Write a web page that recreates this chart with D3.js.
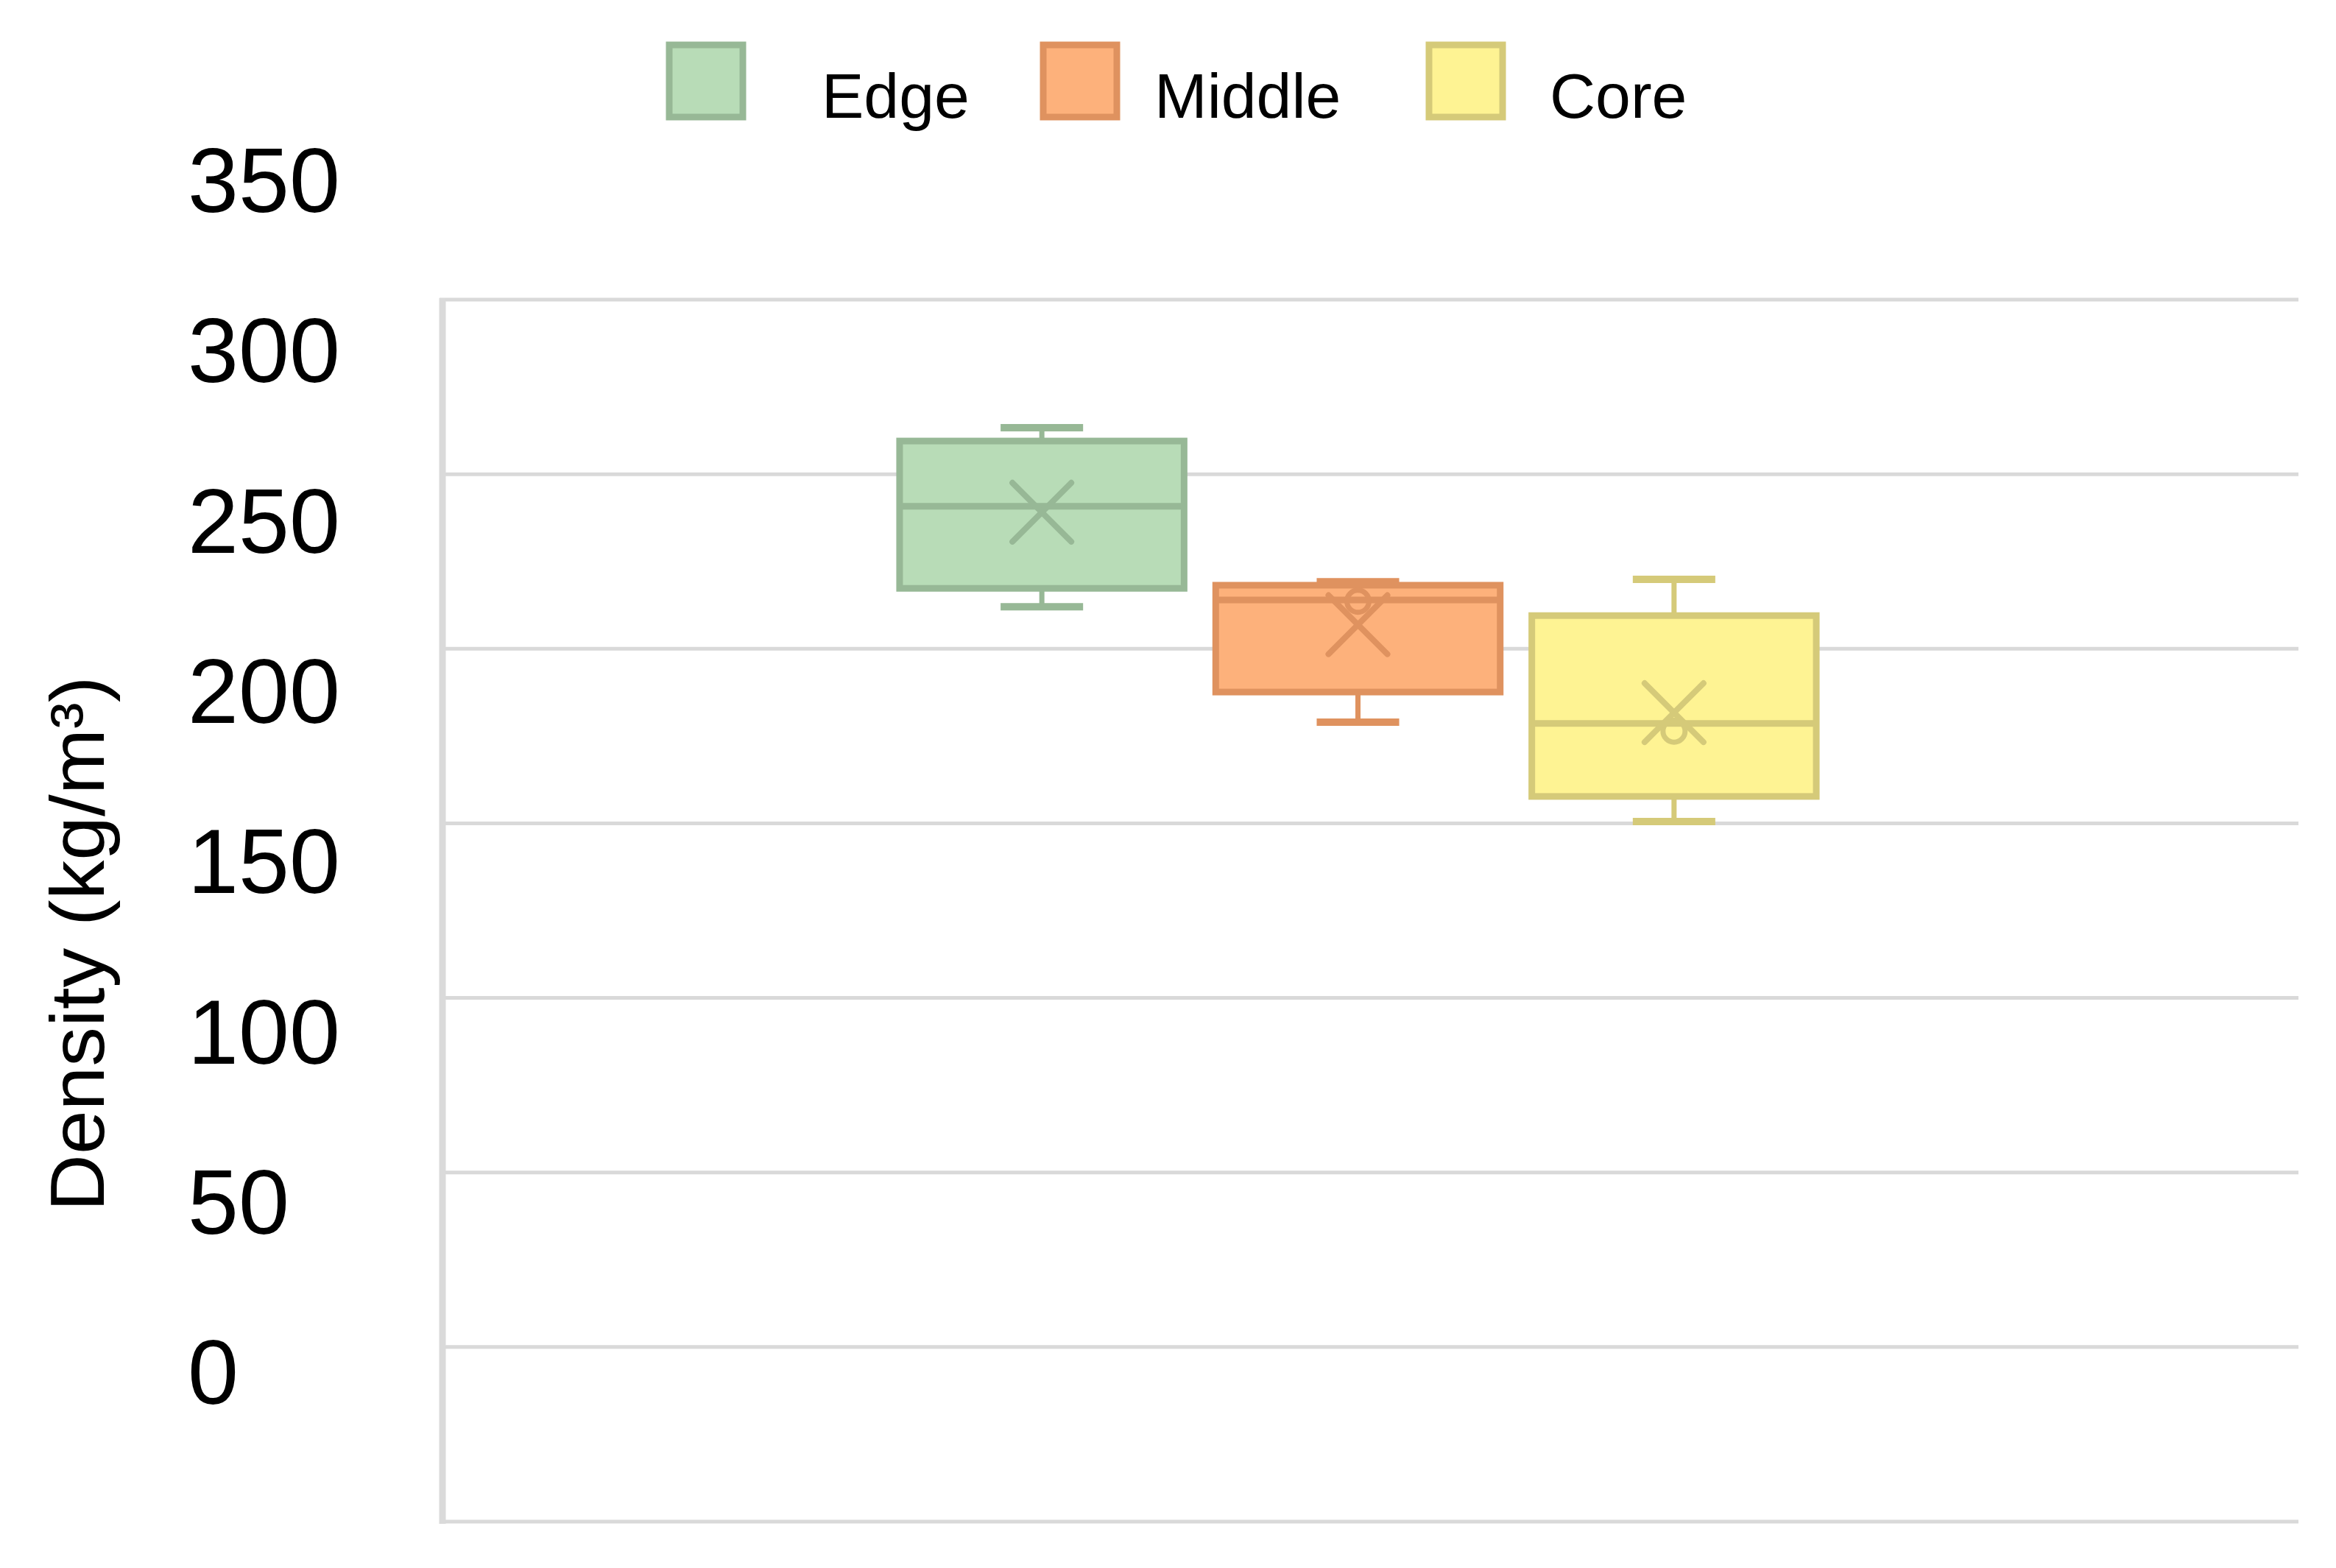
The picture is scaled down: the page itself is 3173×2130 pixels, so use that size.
<!DOCTYPE html>
<html>
<head>
<meta charset="utf-8">
<script src="https://cdn.jsdelivr.net/npm/d3@7"></script>
<style>
  body { margin: 0; background: #fff; }
  text { font-family: "Liberation Sans", Arial, sans-serif; fill: #000; }
</style>
</head>
<body>
<div id="chart"></div>
<script>
// data
const series = ["Edge", "Middle", "Core"];
const whiskerLow = [262, 229, 200.5];
const q1 = [267.3, 237.6, 207.7];
const median = [290.8, 264, 228.6];
const q3 = [309.5, 268.2, 259.5];
const whiskerHigh = [313.3, 269.2, 269.9];
const mean = [289.1, 256.9, 231.7];
const innerPoints = [[], [263.6], [226.4]];
const tickValues = [0, 50, 100, 150, 200, 250, 300, 350];

const fills = ["#b8dcb7", "#fdb17b", "#fef393"];
const strokes = ["#97b896", "#df925f", "#d5ca79"];

let width = 3173, height = 2130;

let svg = d3.select('#chart')
    .append('svg')
    .attr('width', width)
    .attr('height', height)
    .style('background', '#fff');

// scales: gridlines cover 0..350
let yScale = d3.scaleLinear()
    .domain([0, 350])
    .range([2067, 407]);

// tick labels in the figure sit on their own, slightly tighter, scale
let labelScale = d3.scaleLinear()
    .domain([0, 350])
    .range([1862, 243]);

let xScale = d3.scaleBand()
    .domain(series)
    .range([1179, 2510])
    .padding(0.1);

const color = d3.scaleOrdinal().domain(series).range(fills);
const lineColor = d3.scaleOrdinal().domain(series).range(strokes);

// gridlines
svg.append('g')
    .selectAll('line')
    .data(tickValues)
    .enter()
    .append('line')
    .attr('x1', 597)
    .attr('x2', 3122)
    .attr('y1', d => yScale(d))
    .attr('y2', d => yScale(d))
    .attr('stroke', '#d9d9d9')
    .attr('stroke-width', 5);

// left vertical line
svg.append('line')
    .attr('x1', 601).attr('x2', 601)
    .attr('y1', yScale(350) - 2).attr('y2', yScale(0) + 3)
    .attr('stroke', '#dadada')
    .attr('stroke-width', 9);

// y tick labels
let yAxis = svg.append('g')
    .attr('transform', 'translate(255,0)')
    .call(d3.axisLeft(labelScale).tickValues(tickValues).tickSize(0).tickPadding(0));
yAxis.select('.domain').remove();
yAxis.selectAll('text')
    .attr('x', 0)
    .attr('dy', '0.36em')
    .style('text-anchor', 'start')
    .style('font-size', '124px')
    .style('font-family', '"Liberation Sans", Arial, sans-serif')
    .attr('fill', '#000');

// y axis title
svg.append('text')
    .attr('transform', 'translate(141,1282) rotate(-90)')
    .attr('text-anchor', 'middle')
    .attr('textLength', 727)
    .attr('lengthAdjust', 'spacingAndGlyphs')
    .style('font-size', '104px')
    .text('Density (kg/m³)');

// boxes
series.forEach((s, i) => {
    const x = xScale(s);
    const bw = xScale.bandwidth();
    const cx = x + bw / 2;
    const capW = bw * 0.29;
    const c = lineColor(s);
    const g = svg.append('g');

    // whisker stems
    g.append('line')
        .attr('x1', cx).attr('x2', cx)
        .attr('y1', yScale(whiskerHigh[i])).attr('y2', yScale(q3[i]))
        .attr('stroke', c).attr('stroke-width', 7);
    g.append('line')
        .attr('x1', cx).attr('x2', cx)
        .attr('y1', yScale(q1[i])).attr('y2', yScale(whiskerLow[i]))
        .attr('stroke', c).attr('stroke-width', 7);

    // whisker caps
    [whiskerHigh[i], whiskerLow[i]].forEach(v => {
        g.append('line')
            .attr('x1', cx - capW / 2).attr('x2', cx + capW / 2)
            .attr('y1', yScale(v)).attr('y2', yScale(v))
            .attr('stroke', c).attr('stroke-width', 10);
    });

    // box
    g.append('rect')
        .attr('x', x)
        .attr('y', yScale(q3[i]))
        .attr('width', bw)
        .attr('height', yScale(q1[i]) - yScale(q3[i]))
        .attr('fill', color(s))
        .attr('stroke', c)
        .attr('stroke-width', 9);

    // median
    g.append('line')
        .attr('x1', x).attr('x2', x + bw)
        .attr('y1', yScale(median[i])).attr('y2', yScale(median[i]))
        .attr('stroke', c).attr('stroke-width', 9);

    // inner points
    innerPoints[i].forEach(v => {
        g.append('circle')
            .attr('cx', cx)
            .attr('cy', yScale(v))
            .attr('r', 15)
            .attr('fill', 'none')
            .attr('stroke', c)
            .attr('stroke-width', 7);
    });

    // mean marker (X)
    const my = yScale(mean[i]);
    const h = 40;
    g.append('path')
        .attr('d', `M${cx - h},${my - h}L${cx + h},${my + h}M${cx + h},${my - h}L${cx - h},${my + h}`)
        .attr('stroke', c)
        .attr('stroke-width', 8)
        .attr('stroke-linecap', 'round')
        .attr('fill', 'none');
});

// legend
const legendX = [905, 1413, 1937];
const legendTextX = [1116, 1568, 2105];

const legend = svg.selectAll('.legend')
    .data(series)
    .enter().append('g')
    .attr('class', 'legend');

legend.append('rect')
    .attr('x', (d, i) => legendX[i] + 4)
    .attr('y', 61)
    .attr('width', 100)
    .attr('height', 98)
    .attr('fill', d => color(d))
    .attr('stroke', d => lineColor(d))
    .attr('stroke-width', 9);

legend.append('text')
    .attr('x', (d, i) => legendTextX[i])
    .attr('y', 160)
    .style('font-size', '86px')
    .text(d => d);
</script>
</body>
</html>
